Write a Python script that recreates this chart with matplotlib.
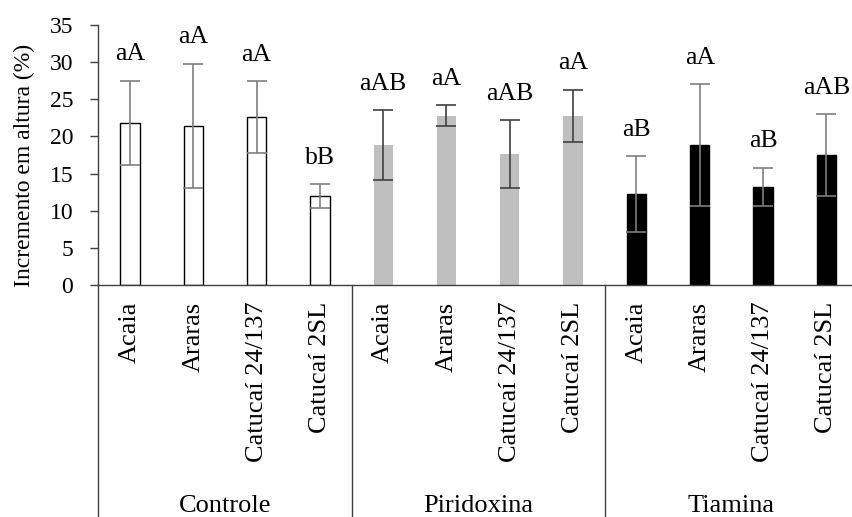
import matplotlib
matplotlib.use("Agg")
import matplotlib.pyplot as plt
import matplotlib.transforms as mtransforms
import numpy as np

plt.rcParams['font.family'] = ['Liberation Serif', 'DejaVu Serif']

groups = ["Controle", "Piridoxina", "Tiamina"]
cultivars = ["Acaia", "Araras", "Catucaí 24/137", "Catucaí 2SL"]

controle_vals = [21.8, 21.4, 22.6, 12.0]
controle_err = [5.7, 8.4, 4.8, 1.6]
controle_lbl = ["aA", "aA", "aA", "bB"]

piridoxina_vals = [18.8, 22.8, 17.6, 22.8]
piridoxina_err = [4.7, 1.4, 4.6, 3.5]
piridoxina_lbl = ["aAB", "aA", "aAB", "aA"]

tiamina_vals = [12.2, 18.8, 13.2, 17.5]
tiamina_err = [5.1, 8.2, 2.6, 5.5]
tiamina_lbl = ["aB", "aA", "aB", "aAB"]

y_ticks = [0, 5, 10, 15, 20, 25, 30, 35]
ylabel = "Incremento em altura (%)"

series = [
    (controle_vals, controle_err, controle_lbl,
     dict(facecolor="white", edgecolor="black", linewidth=1.0), "#7f7f7f"),
    (piridoxina_vals, piridoxina_err, piridoxina_lbl,
     dict(facecolor="#bfbfbf", edgecolor="none"), "#404040"),
    (tiamina_vals, tiamina_err, tiamina_lbl,
     dict(facecolor="black", edgecolor="black"), "#7f7f7f"),
]

fig = plt.figure(figsize=(8.53, 5.17), dpi=100)
W, H = 853, 517
ax = fig.add_axes([98.3 / W, (H - 285) / H, (858 - 98.3) / W, 260 / H])

n = len(cultivars)
all_labels = []
for gi, (vals, errs, lbls, style, ecol) in enumerate(series):
    x = np.arange(n) + gi * n
    ax.bar(x, vals, width=0.305, zorder=2, **style)
    ax.errorbar(x, vals, yerr=errs, fmt="none", ecolor=ecol, elinewidth=1.2,
                capsize=7, capthick=1.2, zorder=3)
    for xi, v, e, t in zip(x, vals, errs, lbls):
        ax.annotate(t, (xi, v + e), xytext=(0, 19), textcoords="offset points",
                    ha="center", va="center", fontsize=18.5)
    all_labels += cultivars

ax.set_xlim(-0.5, len(groups) * n - 0.5)
ax.set_ylim(0, 35)
ax.set_yticks(y_ticks)
ax.tick_params(axis="y", labelsize=17, length=6, width=1.0, color="#404040", pad=12)
ax.set_xticks(np.arange(len(groups) * n))
ax.set_xticklabels(all_labels, rotation=90, fontsize=19)
ax.tick_params(axis="x", length=0, pad=12)

for s in ["top", "right"]:
    ax.spines[s].set_visible(False)
for s in ["left", "bottom"]:
    ax.spines[s].set_color("#404040")
    ax.spines[s].set_linewidth(1.0)

ax.set_ylabel(ylabel, fontsize=17)
ax.yaxis.set_label_coords(-0.083, 0.46)

trans = mtransforms.blended_transform_factory(ax.transData, ax.transAxes)
for gi in range(len(groups) + 1):
    xb = gi * n - 0.5
    ax.plot([xb, xb], [0, -0.9], transform=trans, color="#404040",
            linewidth=1.0, clip_on=False)
for gi, g in enumerate(groups):
    ax.text(gi * n + (n - 1) / 2, -0.872, g, transform=trans, ha="center",
            va="baseline", fontsize=19)

fig.savefig("out.png", dpi=100)
